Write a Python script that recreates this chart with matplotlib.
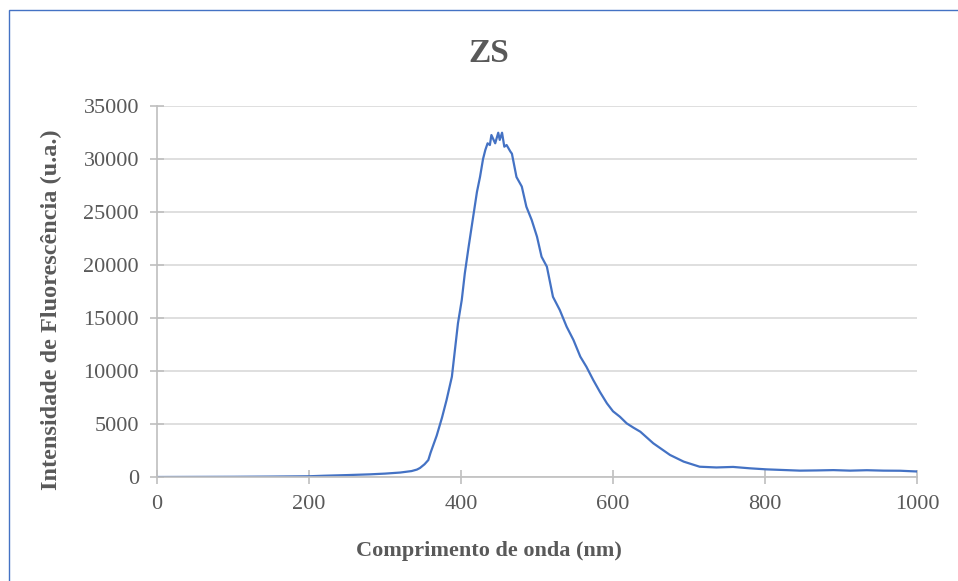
import matplotlib.pyplot as plt
from matplotlib.patches import Rectangle

# Espectro de fluorescencia ZS
wavelength = [0, 50, 100, 150, 200, 220, 250, 280, 300, 320, 335, 342, 346, 352,
              357, 360, 365, 368, 375, 381, 388, 392, 396, 401, 405, 410, 414,
              421, 425, 429, 432, 435, 438, 440, 445, 449, 451, 454, 457, 460,
              465, 467, 473, 480, 486, 493, 500, 506, 513, 521, 530, 539, 548,
              557, 565, 574, 583, 592, 600, 609, 618, 627, 636, 653, 675, 693,
              714, 736, 758, 780, 802, 824, 846, 868, 890, 912, 934, 956, 978, 1000]
intensity = [0, 10, 20, 40, 70, 120, 180, 250, 320, 420, 560, 700, 850, 1200,
             1600, 2300, 3300, 3900, 5600, 7260, 9460, 11980, 14500, 16700, 19200,
             21700, 23600, 26900, 28300, 30000, 30850, 31480, 31320, 32260, 31480,
             32480, 31800, 32480, 31160, 31320, 30700, 30500, 28300, 27400, 25500,
             24250, 22670, 20780, 19840, 17000, 15750, 14180, 12920, 11350, 10400,
             9150, 8000, 6950, 6200, 5690, 5060, 4650, 4270, 3180, 2080, 1450,
             970, 900, 950, 820, 720, 660, 600, 620, 650, 600, 640, 600, 590, 520]

xticks = [0, 200, 400, 600, 800, 1000]
yticks = [0, 5000, 10000, 15000, 20000, 25000, 30000, 35000]

plt.rcParams['font.family'] = ['Liberation Serif', 'DejaVu Serif']
text_color = '#595959'
W, H = 958, 581

fig = plt.figure(figsize=(W / 100, H / 100), dpi=100)
ax = fig.add_axes([157 / W, 1 - 477 / H, (917 - 157) / W, (477 - 106) / H])

ax.plot(wavelength, intensity, color='#4472c4', linewidth=1.6)

ax.set_xlim(0, 1000)
ax.set_ylim(0, 35000)
ax.set_xticks(xticks)
ax.set_yticks(yticks)
ax.grid(axis='y', color='#d9d9d9', linewidth=1.2)
ax.set_axisbelow(True)

for side in ['top', 'right']:
    ax.spines[side].set_visible(False)
for side in ['left', 'bottom']:
    ax.spines[side].set_color('#bfbfbf')
    ax.spines[side].set_linewidth(1.2)

ax.tick_params(axis='both', direction='inout', length=10, width=1.2,
               color='#bfbfbf', labelcolor=text_color, labelsize=16)
ax.tick_params(axis='y', pad=8)
ax.tick_params(axis='x', pad=8)

# titulo e rotulos centrados na area do grafico (estilo Excel)
fig.text(489 / W, 1 - 53 / H, 'ZS', fontsize=24, fontweight='bold',
         color=text_color, ha='center', va='center')
fig.text(489 / W, 1 - 551 / H, 'Comprimento de onda (nm)', fontsize=16,
         fontweight='bold', color=text_color, ha='center', va='center')
fig.text(51 / W, 1 - 310 / H, 'Intensidade de Fluorescência (u.a.)',
         fontsize=17.5, fontweight='bold', color=text_color, ha='center',
         va='center', rotation=90)

# moldura azul do grafico
fig.patches.append(Rectangle((9 / W, -0.1), 1.1, 1 - 10 / H + 0.1,
                             transform=fig.transFigure, fill=False,
                             edgecolor='#4472c4', linewidth=1.0))

fig.savefig('out.png', dpi=100)
